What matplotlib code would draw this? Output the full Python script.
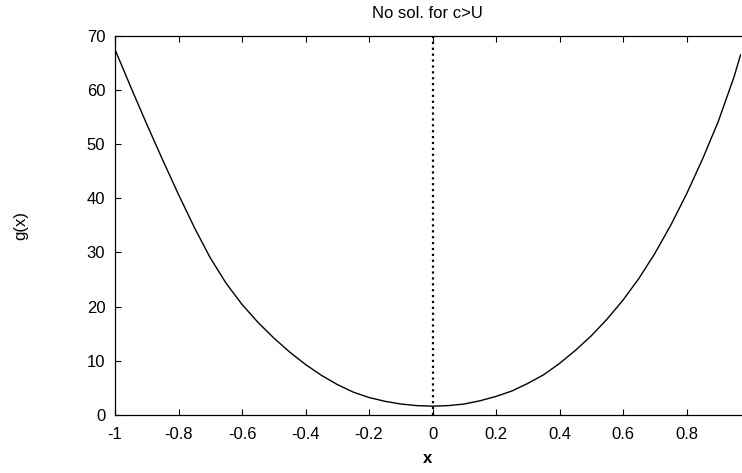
import numpy as np
import matplotlib.pyplot as plt

plt.rcParams['font.family'] = ['Liberation Sans', 'DejaVu Sans']

# values
x = [-1.0, -0.95, -0.9, -0.85, -0.8, -0.75, -0.7, -0.65, -0.6, -0.55, -0.5,
     -0.45, -0.4, -0.35, -0.3, -0.25, -0.2, -0.15, -0.1, -0.05, 0.0,
     0.05, 0.1, 0.15, 0.2, 0.25, 0.3, 0.35, 0.4, 0.45, 0.5,
     0.55, 0.6, 0.65, 0.7, 0.75, 0.8, 0.85, 0.9, 0.95, 0.97]
g = [67.5, 60.5, 53.7, 47.1, 40.7, 34.6, 29.0, 24.3, 20.4, 17.1, 14.2,
     11.6, 9.3, 7.3, 5.6, 4.2, 3.2, 2.5, 2.0, 1.7, 1.6,
     1.7, 2.0, 2.6, 3.4, 4.4, 5.8, 7.4, 9.5, 11.9, 14.6,
     17.7, 21.2, 25.2, 29.8, 35.0, 40.8, 47.2, 54.2, 62.5, 66.5]
xticks = [-1, -0.8, -0.6, -0.4, -0.2, 0, 0.2, 0.4, 0.6, 0.8]
xticklabels = ['-1', '-0.8', '-0.6', '-0.4', '-0.2', '0', '0.2', '0.4', '0.6', '0.8']
yticks = [0, 10, 20, 30, 40, 50, 60, 70]

fig = plt.figure(figsize=(7.42, 4.73), dpi=100)
ax = fig.add_axes([0.155, 0.123, 0.843, 0.801])

ax.plot(x, g, color='black', linewidth=1.0)
ax.plot([0, 0], [0, 70], color='black', linestyle=':', linewidth=1.6)

ax.set_xlim(-1, 0.97)
ax.set_ylim(0, 70)
ax.set_xticks(xticks)
ax.set_xticklabels(xticklabels)
ax.set_yticks(yticks)
ax.tick_params(direction='in', top=True, length=4, width=0.8, labelsize=12)
ax.tick_params(axis='x', pad=9)
ax.tick_params(axis='y', pad=7)
ax.spines['right'].set_visible(False)
for s in ['left', 'bottom', 'top']:
    ax.spines[s].set_linewidth(0.9)

ax.set_title('No sol. for c>U', fontsize=12, pad=13)
ax.set_xlabel('x', fontsize=12, fontweight='bold', labelpad=6)
ax.set_ylabel('g(x)', fontsize=12, labelpad=42)

fig.savefig('out.png', dpi=100)
